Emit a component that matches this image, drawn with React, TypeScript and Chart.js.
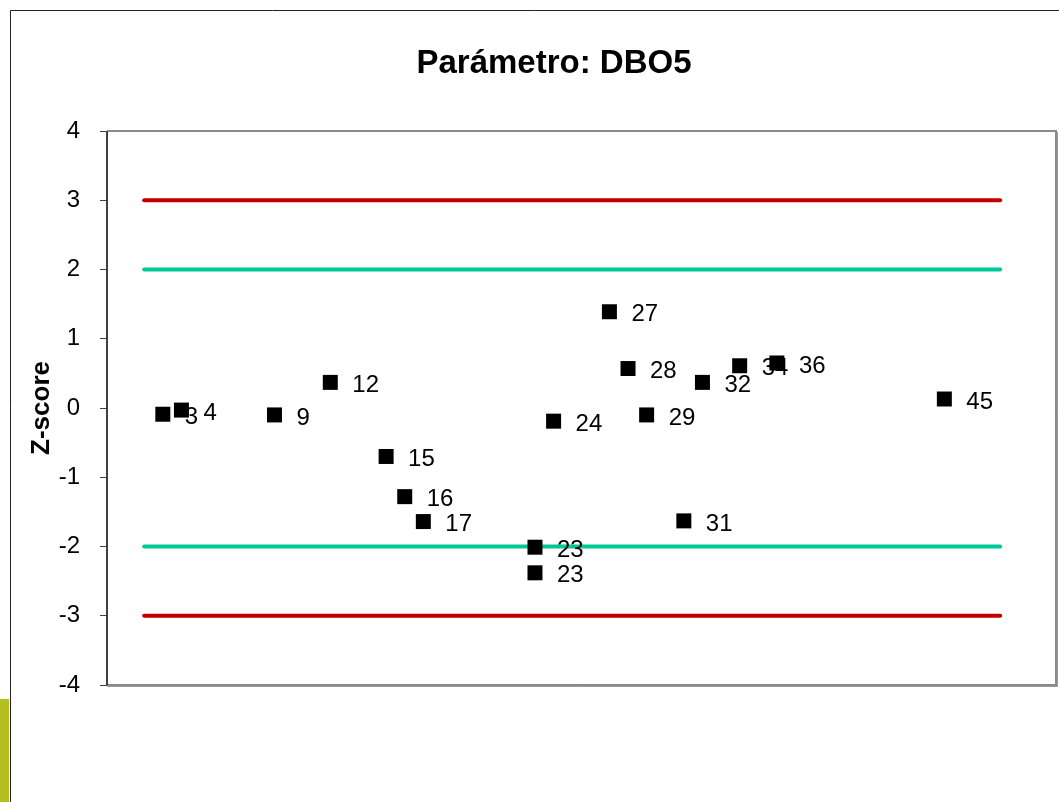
import React, { useEffect, useRef } from "react";
import { Chart, registerables } from "chart.js";

Chart.register(...registerables);

const labIds: number[] = [3, 4, 9, 12, 15, 16, 17, 23, 23, 24, 27, 28, 29, 31, 32, 34, 36, 45];
const zScores: number[] = [-0.09, -0.03, -0.1, 0.37, -0.7, -1.28, -1.64, -2.01, -2.38, -0.19, 1.39, 0.57, -0.1, -1.63, 0.37, 0.61, 0.65, 0.13];
const limitX: number[] = [2, 48];
const warnLimit = 2;
const actionLimit = 3;
const yTicks: number[] = [-4, -3, -2, -1, 0, 1, 2, 3, 4];
const titleText = "Parámetro: DBO5";
const yTitle = "Z-score";

const FONT = "Arial, 'Liberation Sans', sans-serif";

const framePlugin = {
  id: "frame",
  beforeDraw(chart: any) {
    const ctx = chart.ctx;
    ctx.save();
    ctx.fillStyle = "#fff";
    ctx.fillRect(0, 0, chart.width, chart.height);
    ctx.fillStyle = "#B4BF1F";
    ctx.fillRect(0, 699, 9, 103);
    ctx.strokeStyle = "#222";
    ctx.lineWidth = 1;
    ctx.beginPath();
    ctx.moveTo(10.5, 802);
    ctx.lineTo(10.5, 10.5);
    ctx.lineTo(1059, 10.5);
    ctx.stroke();
    // title
    ctx.fillStyle = "#000";
    ctx.font = `bold 33px ${FONT}`;
    ctx.textAlign = "center";
    ctx.textBaseline = "middle";
    ctx.fillText(titleText, 554, 64);
    ctx.restore();
  },
  beforeDatasetsDraw(chart: any) {
    const { ctx, chartArea: a } = chart;
    ctx.save();
    ctx.strokeStyle = "#8a8a8a";
    ctx.lineWidth = 2;
    ctx.beginPath();
    ctx.moveTo(a.left, a.top);
    ctx.lineTo(a.right, a.top);
    ctx.lineTo(a.right, a.bottom);
    ctx.lineTo(a.left, a.bottom);
    ctx.stroke();
    ctx.strokeStyle = "#9a9a9a";
    ctx.lineWidth = 1;
    ctx.beginPath();
    ctx.moveTo(a.right + 1.5, a.top + 1);
    ctx.lineTo(a.right + 1.5, a.bottom + 1.5);
    ctx.lineTo(a.left, a.bottom + 1.5);
    ctx.stroke();
    ctx.strokeStyle = "#404040";
    ctx.lineWidth = 2;
    ctx.beginPath();
    ctx.moveTo(a.left, a.top);
    ctx.lineTo(a.left, a.bottom);
    ctx.stroke();
    ctx.restore();
  },
};

const labelPlugin = {
  id: "pointLabels",
  afterDatasetsDraw(chart: any) {
    const ctx = chart.ctx;
    const meta = chart.getDatasetMeta(2);
    ctx.save();
    ctx.fillStyle = "#000";
    ctx.font = `24px ${FONT}`;
    ctx.textAlign = "left";
    ctx.textBaseline = "middle";
    meta.data.forEach((el: any, i: number) => {
      ctx.fillText(String(labIds[i]), el.x + 22, el.y + 3);
    });
    ctx.restore();
  },
};

export default function App() {
  const ref = useRef<HTMLCanvasElement>(null);
  useEffect(() => {
    if (!ref.current) return;
    const line = (v: number) => limitX.map((x) => ({ x, y: v }));
    const chart = new Chart(ref.current, {
      type: "scatter",
      data: {
        datasets: [
          { type: "line", data: line(actionLimit), borderColor: "#C00000", borderWidth: 4, borderCapStyle: "round", pointRadius: 0 },
          { type: "line", data: line(warnLimit), borderColor: "#00C896", borderWidth: 4, borderCapStyle: "round", pointRadius: 0 },
          {
            data: labIds.map((x, i) => ({ x, y: zScores[i] })),
            pointStyle: "rect",
            pointRadius: 10.6,
            backgroundColor: "#000",
            borderColor: "#000",
            borderWidth: 0,
          },
          { type: "line", data: line(-warnLimit), borderColor: "#00C896", borderWidth: 4, borderCapStyle: "round", pointRadius: 0 },
          { type: "line", data: line(-actionLimit), borderColor: "#C00000", borderWidth: 4, borderCapStyle: "round", pointRadius: 0 },
        ],
      } as any,
      options: {
        animation: false,
        responsive: false,
        maintainAspectRatio: false,
        layout: { autoPadding: false, padding: { left: 0, top: 131, right: 3, bottom: 117 } },
        plugins: {
          legend: { display: false },
          tooltip: { enabled: false },
          title: { display: false },
        },
        scales: {
          x: { type: "linear", min: 0, max: 51, display: false },
          y: {
            type: "linear",
            min: -4,
            max: 4,
            afterFit: (s: any) => {
              s.width = 107;
            },
            afterBuildTicks: (s: any) => {
              s.ticks = yTicks.map((v) => ({ value: v }));
            },
            ticks: { color: "#000", font: { family: FONT, size: 24 }, padding: 20 },
            grid: { drawOnChartArea: false, drawTicks: true, tickLength: 7, color: "#404040", lineWidth: 1 },
            border: { display: false },
            title: {
              display: true,
              text: yTitle,
              color: "#000",
              font: { family: FONT, size: 26, weight: "bold", lineHeight: 1.2 },
              padding: { top: 26.4, bottom: 0 },
            },
          },
        },
      } as any,
      plugins: [framePlugin, labelPlugin],
    });
    return () => chart.destroy();
  }, []);
  return (
    <div style={{ position: "fixed", left: 0, top: 0, width: 1059, height: 802 }}>
      <canvas ref={ref} width={1059} height={802} style={{ display: "block", width: 1059, height: 802 }} />
    </div>
  );
}
